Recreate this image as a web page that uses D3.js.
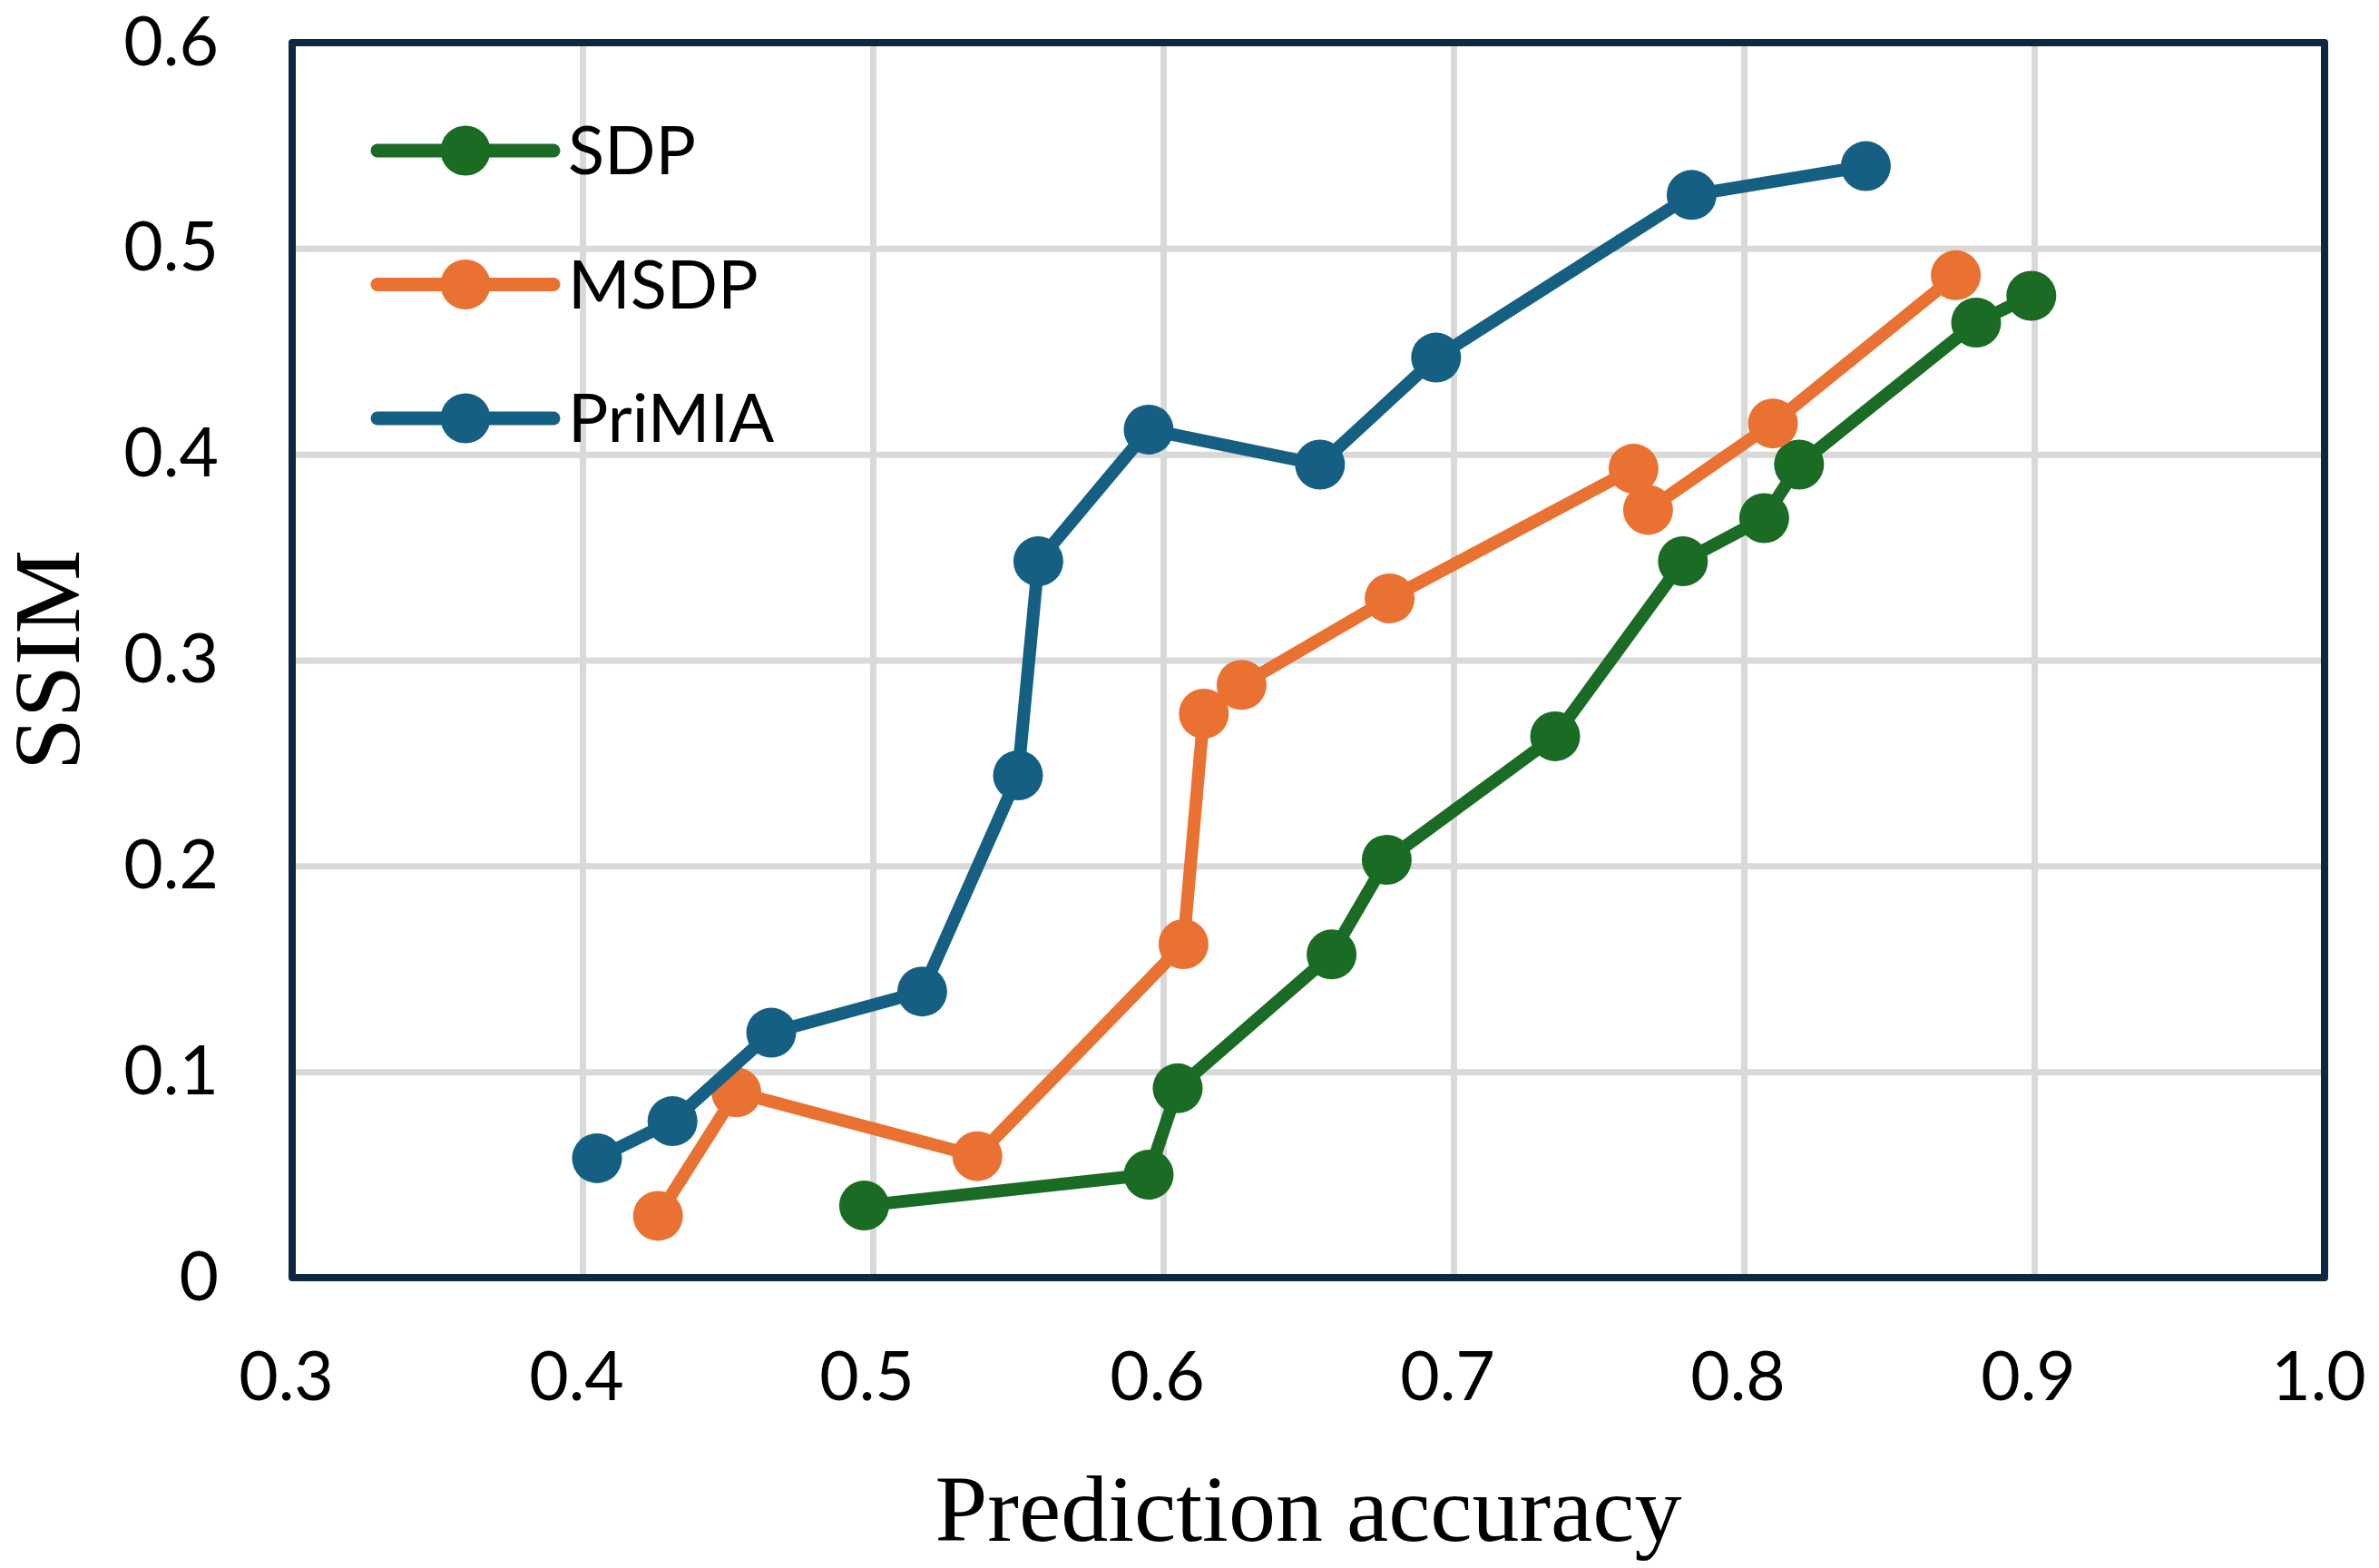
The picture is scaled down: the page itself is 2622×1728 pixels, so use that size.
<!DOCTYPE html>
<html>
<head>
<meta charset="utf-8">
<script src="https://cdn.jsdelivr.net/npm/d3@7"></script>
<style>
  body { margin: 0; background: #fff; }
  .tick text { font-family: Lato, "Open Sans", sans-serif; font-size: 75px; fill: #000; }
  .grid line { stroke: #d9d9d9; stroke-width: 7; }
  .title { font-family: "Liberation Serif", "Times New Roman", serif; font-size: 104px; fill: #000; }
  .legend text { font-family: Lato, "Open Sans", sans-serif; font-size: 74px; fill: #000; }
</style>
</head>
<body>
<div id="chart"></div>
<script>
// series names and colours
var seriesNames = ["SDP", "MSDP", "PriMIA"];
var seriesColors = ["#1a6b24", "#e97132", "#156082"];

// prediction accuracy (x) and SSIM (y)
var sdpX = [0.497, 0.595, 0.605, 0.658, 0.677, 0.735, 0.779, 0.807, 0.819, 0.880, 0.899];
var sdpY = [0.035, 0.050, 0.092, 0.157, 0.203, 0.263, 0.348, 0.369, 0.395, 0.464, 0.477];

var msdpX = [0.426, 0.453, 0.536, 0.607, 0.614, 0.627, 0.678, 0.762, 0.767, 0.810, 0.873];
var msdpY = [0.030, 0.090, 0.059, 0.162, 0.274, 0.288, 0.330, 0.393, 0.373, 0.415, 0.487];

var primiaX = [0.405, 0.431, 0.465, 0.517, 0.550, 0.557, 0.595, 0.654, 0.694, 0.782, 0.842];
var primiaY = [0.058, 0.076, 0.119, 0.139, 0.244, 0.348, 0.412, 0.395, 0.447, 0.526, 0.540];

var xTicks = [0.3, 0.4, 0.5, 0.6, 0.7, 0.8, 0.9, 1.0];
var xTickLabels = ["0.3", "0.4", "0.5", "0.6", "0.7", "0.8", "0.9", "1.0"];
var yTicks = [0, 0.1, 0.2, 0.3, 0.4, 0.5, 0.6];
var yTickLabels = ["0", "0.1", "0.2", "0.3", "0.4", "0.5", "0.6"];

var W = 2622, H = 1728;
var margin = {left: 322, right: 60, top: 47, bottom: 320};
var w = W - margin.left - margin.right;
var h = H - margin.top - margin.bottom;

var svg = d3.select("#chart")
  .append("svg")
    .attr("width", W)
    .attr("height", H)
    .style("display", "block");

svg.append("rect").attr("width", W).attr("height", H).attr("fill", "#fff");

var g = svg.append("g").attr("transform", "translate(" + margin.left + "," + margin.top + ")");

var x = d3.scaleLinear().domain([0.3, 1.0]).range([0, w]);
var y = d3.scaleLinear().domain([0, 0.6]).range([h, 0]);

// gridlines
g.append("g")
  .attr("class", "grid")
  .attr("transform", "translate(0," + h + ")")
  .call(d3.axisBottom(x).tickValues(xTicks.slice(1, -1)).tickSize(-h).tickFormat(""))
  .call(function(s) { s.select(".domain").remove(); });

g.append("g")
  .attr("class", "grid")
  .call(d3.axisLeft(y).tickValues(yTicks.slice(1, -1)).tickSize(-w).tickFormat(""))
  .call(function(s) { s.select(".domain").remove(); });

// tick labels
g.append("g")
  .attr("transform", "translate(0," + h + ")")
  .call(d3.axisBottom(x).tickValues(xTicks).tickSize(0).tickPadding(82)
    .tickFormat(function(d, i) { return xTickLabels[i]; }))
  .call(function(s) {
    s.select(".domain").remove();
    s.selectAll("text").attr("dx", -7);
  });

g.append("g")
  .call(d3.axisLeft(y).tickValues(yTicks).tickSize(0).tickPadding(81)
    .tickFormat(function(d, i) { return yTickLabels[i]; }))
  .call(function(s) { s.select(".domain").remove(); });

// plot border
g.append("rect")
  .attr("width", w)
  .attr("height", h)
  .attr("fill", "none")
  .attr("stroke", "#0e2841")
  .attr("stroke-width", 8)
  .attr("stroke-linejoin", "round");

// series
var allSeries = [
  {name: seriesNames[0], color: seriesColors[0], pts: d3.zip(sdpX, sdpY)},
  {name: seriesNames[1], color: seriesColors[1], pts: d3.zip(msdpX, msdpY)},
  {name: seriesNames[2], color: seriesColors[2], pts: d3.zip(primiaX, primiaY)}
];

var line = d3.line()
  .x(function(d) { return x(d[0]); })
  .y(function(d) { return y(d[1]); });

var sg = g.selectAll(".series")
  .data(allSeries)
  .enter().append("g")
    .attr("class", "series");

sg.append("path")
  .attr("d", function(d) { return line(d.pts); })
  .attr("fill", "none")
  .attr("stroke", function(d) { return d.color; })
  .attr("stroke-width", 14)
  .attr("stroke-linejoin", "round");

sg.selectAll("circle")
  .data(function(d) { return d.pts.map(function(p) { return {p: p, color: d.color}; }); })
  .enter().append("circle")
    .attr("cx", function(d) { return x(d.p[0]); })
    .attr("cy", function(d) { return y(d.p[1]); })
    .attr("r", 27.5)
    .attr("fill", function(d) { return d.color; });

// legend
var lg = svg.selectAll(".legend")
  .data(allSeries)
  .enter().append("g")
    .attr("class", "legend")
    .attr("transform", function(d, i) { return "translate(416," + (166 + i * 147.5) + ")"; });

lg.append("line")
  .attr("x1", 0).attr("x2", 194)
  .attr("stroke", function(d) { return d.color; })
  .attr("stroke-width", 15)
  .attr("stroke-linecap", "round");

lg.append("circle")
  .attr("cx", 97)
  .attr("r", 27.5)
  .attr("fill", function(d) { return d.color; });

lg.append("text")
  .attr("x", 210)
  .attr("y", 26)
  .text(function(d) { return d.name; });

// axis titles
svg.append("text")
  .attr("class", "title")
  .attr("text-anchor", "middle")
  .attr("x", margin.left + w / 2)
  .attr("y", 1698)
  .text("Prediction accuracy");

svg.append("text")
  .attr("class", "title")
  .attr("text-anchor", "middle")
  .attr("transform", "translate(87," + (margin.top + h / 2) + ") rotate(-90)")
  .text("SSIM");
</script>
</body>
</html>
